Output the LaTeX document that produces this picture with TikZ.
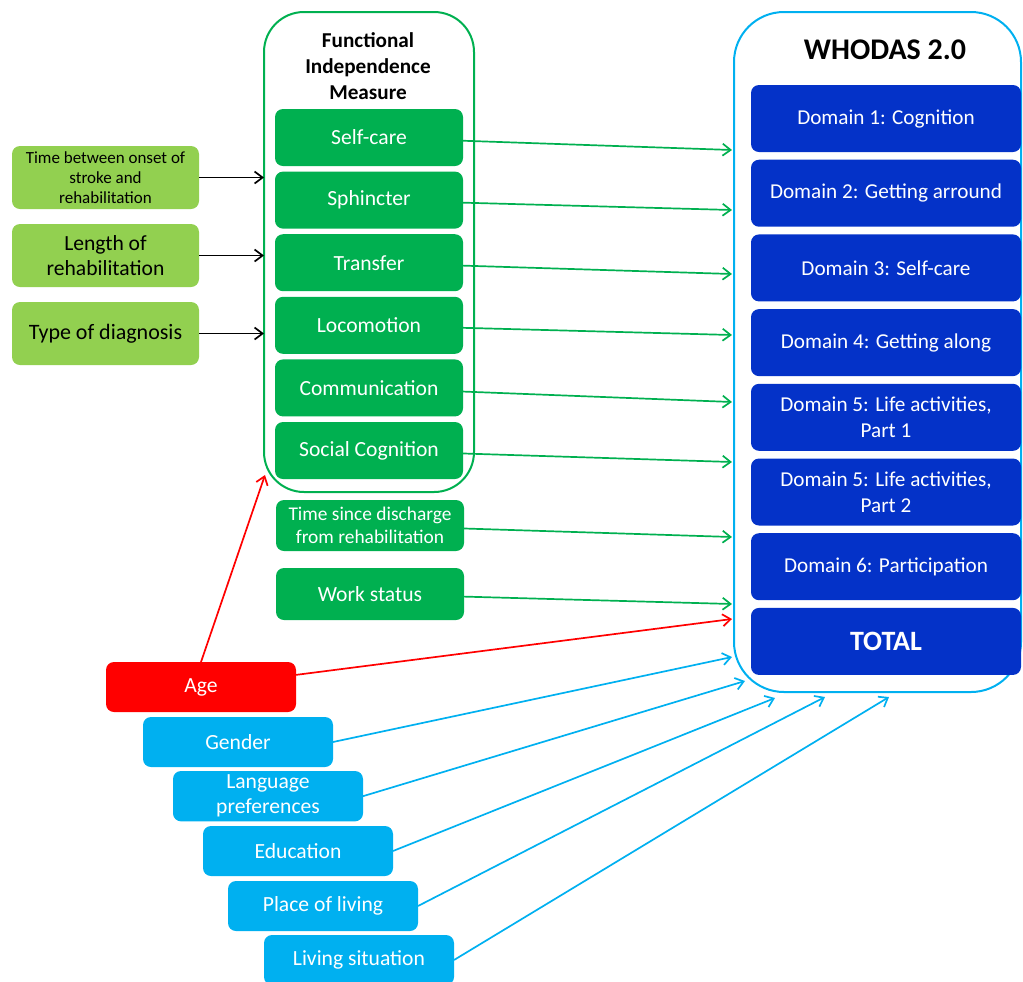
\documentclass[tikz,border=0pt]{standalone}
\usepackage{fontspec}
\setmainfont{Carlito}
\usepackage{tikz}
\usetikzlibrary{arrows.meta, positioning}
\definecolor{fimgreen}{HTML}{00B050}
\definecolor{lightgreen}{HTML}{92D050}
\definecolor{domainblue}{HTML}{0432C8}
\definecolor{skyblue}{HTML}{00B0F0}
\definecolor{agered}{HTML}{FF0000}

\begin{document}
\begin{tikzpicture}[
    x=0.5pt, y=-0.5pt,
    box/.style={rounded corners=4pt, align=center, outer sep=0pt, inner sep=2pt, text=white, font=\fontsize{10.8}{12.5}\selectfont},
    fimbox/.style={box, fill=fimgreen, minimum width=94pt, minimum height=28.5pt},
    leftbox/.style={box, fill=lightgreen, text=black, minimum width=93.5pt, minimum height=31.5pt},
    domainbox/.style={box, fill=domainblue, minimum width=135pt, minimum height=33.5pt, font=\fontsize{10.6}{13}\selectfont},
    demobox/.style={box, fill=skyblue, minimum width=95pt, minimum height=25pt, anchor=north west},
    groupframe/.style={draw, line width=1pt, outer sep=0pt, anchor=north west},
    arrow/.style={-{Straight Barb[length=4pt, width=6pt]}, line width=0.85pt}
]
\useasboundingbox (0,0) rectangle (1023,981);

% frames
\node[groupframe, draw=fimgreen, minimum width=105pt, minimum height=240pt, rounded corners=20pt] (fim) at (264,12) {};
\node[groupframe, draw=skyblue, minimum width=143.5pt, minimum height=340pt, rounded corners=25pt] (who) at (734,12) {};
\node[font=\bfseries\fontsize{10.6}{13}\selectfont, align=center] (fimtitle) at (368,66) {Functional\\Independence\\Measure};
\node[font=\bfseries\fontsize{15}{18}\selectfont] (whotitle) at (885,50) {WHODAS 2.0};

% FIM items
\node[fimbox, anchor=north west] (selfcare) at (275,109) {Self-care};
\node[fimbox, below=2.8pt of selfcare] (sphincter) {Sphincter};
\node[fimbox, below=2.8pt of sphincter] (transfer) {Transfer};
\node[fimbox, below=2.8pt of transfer] (locomotion) {Locomotion};
\node[fimbox, below=2.8pt of locomotion] (communication) {Communication};
\node[fimbox, below=2.8pt of communication] (social) {Social Cognition};
\node[fimbox, anchor=north west, minimum height=25.5pt, font=\fontsize{9.7}{11.5}\selectfont] (discharge) at (276,500) {Time since discharge\\from rehabilitation};
\node[fimbox, below=8.5pt of discharge, minimum height=26pt] (work) {Work status};

% left side
\node[leftbox, anchor=north west, font=\fontsize{8.5}{10}\selectfont] (onset) at (12,146) {Time between onset of\\stroke and\\rehabilitation};
\node[leftbox, below=7.5pt of onset, font=\fontsize{10.8}{12.5}\selectfont] (length) {Length of\\rehabilitation};
\node[leftbox, below=7.5pt of length, font=\fontsize{11}{13}\selectfont] (diagnosis) {Type of diagnosis};

% WHODAS domains
\node[domainbox, anchor=north west] (d1) at (751,85) {Domain 1: Cognition};
\node[domainbox, below=3.85pt of d1] (d2) {Domain 2: Getting arround};
\node[domainbox, below=3.85pt of d2] (d3) {Domain 3: Self-care};
\node[domainbox, below=3.85pt of d3] (d4) {Domain 4: Getting along};
\node[domainbox, below=3.85pt of d4] (d5a) {Domain 5: Life activities,\\Part 1};
\node[domainbox, below=3.85pt of d5a] (d5b) {Domain 5: Life activities,\\Part 2};
\node[domainbox, below=3.85pt of d5b] (d6) {Domain 6: Participation};
\node[domainbox, below=3.85pt of d6, font=\bfseries\fontsize{14}{16}\selectfont] (total) {TOTAL};

% demographics
\node[demobox, fill=agered] (age) at (106,662) {Age};
\node[demobox] (gender) at (143,717) {Gender};
\node[demobox] (language) at (173,771) {Language\\preferences};
\node[demobox] (education) at (203,826) {Education};
\node[demobox] (place) at (228,881) {Place of living};
\node[demobox] (living) at (264,935) {Living situation};

% arrow ends
\coordinate (in1) at (732,150);
\coordinate (in2) at (732,210);
\coordinate (in3) at (732,274);
\coordinate (in4) at (732,335);
\coordinate (in5) at (732,402);
\coordinate (in6) at (732,462);
\coordinate (in7) at (732,537);
\coordinate (in8) at (732,604);
\coordinate (in9) at (732,619);
\coordinate (in10) at (732,657);
\coordinate (in11) at (745,681);
\coordinate (in12) at (775,698);
\coordinate (in13) at (825,697);
\coordinate (in14) at (889,697);
\coordinate (fimin) at (265,475);

\draw[arrow] (onset) -- (onset -| fim.west);
\draw[arrow] (length) -- (length -| fim.west);
\draw[arrow] (diagnosis) -- (diagnosis -| fim.west);

\draw[arrow, fimgreen] (selfcare) -- (in1);
\draw[arrow, fimgreen] (sphincter) -- (in2);
\draw[arrow, fimgreen] (transfer) -- (in3);
\draw[arrow, fimgreen] (locomotion) -- (in4);
\draw[arrow, fimgreen] (communication) -- (in5);
\draw[arrow, fimgreen] (social) -- (in6);
\draw[arrow, fimgreen] (discharge) -- (in7);
\draw[arrow, fimgreen] (work) -- (in8);

\draw[arrow, agered] (age.north) -- (fimin);
\draw[arrow, agered] (age) -- (in9);

\draw[arrow, skyblue] (gender.east) -- (in10);
\draw[arrow, skyblue] (language.east) -- (in11);
\draw[arrow, skyblue] (education.east) -- (in12);
\draw[arrow, skyblue] (place.east) -- (in13);
\draw[arrow, skyblue] (living.east) -- (in14);
\end{tikzpicture}
\end{document}
